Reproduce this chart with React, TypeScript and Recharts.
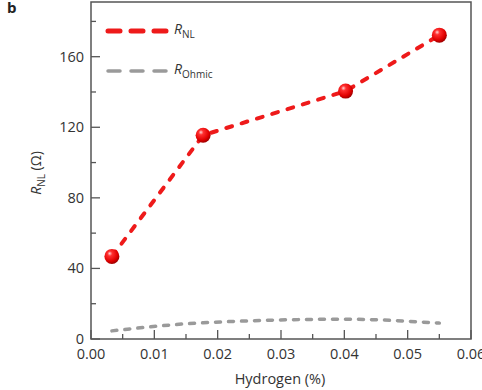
import React from "react";
import { LineChart, Line, XAxis, YAxis, ReferenceArea } from "recharts";

const hydrogen = [0.0033, 0.0177, 0.0402, 0.055];
const rNL = [46.8, 115.5, 140.5, 172.2];
const rOhmic = [4.6, 9.2, 11.2, 9.0];
const xTicks = [0, 0.005, 0.01, 0.015, 0.02, 0.025, 0.03, 0.035, 0.04, 0.045, 0.05, 0.055, 0.06];
const yTicks = [0, 20, 40, 60, 80, 100, 120, 140, 160, 180];

const nlData = hydrogen.map((x, i) => ({ x, v: rNL[i] }));
const ohmData = hydrogen.map((x, i) => ({ x, v: rOhmic[i] }));

const RED = "#ee1a1a";
const GREY = "#9a9a9a";
const AXIS = "#555";
const FONT = "'Open Sans', 'Noto Sans', sans-serif";

function XTick(props: any) {
  const { x, y, payload } = props;
  const v = payload.value;
  const major = Math.abs(v * 100 - Math.round(v * 100)) < 1e-6;
  return (
    <g>
      <line x1={x} x2={x} y1={y} y2={y - (major ? 9 : 5)} stroke={AXIS} strokeWidth={1.3} />
      {major && (
        <text x={x} y={y + 20} textAnchor="middle" fontSize={14.5} fill="#333" fontFamily={FONT}>
          {v.toFixed(2)}
        </text>
      )}
    </g>
  );
}

function YTick(props: any) {
  const { x, y, payload } = props;
  const v = payload.value;
  const major = v % 40 === 0;
  return (
    <g>
      <line x1={x} x2={x + (major ? 9 : 5)} y1={y} y2={y} stroke={AXIS} strokeWidth={1.3} />
      {major && (
        <text x={x - 7} y={y + 5} textAnchor="end" fontSize={14.5} fill="#333" fontFamily={FONT}>
          {v}
        </text>
      )}
    </g>
  );
}

function Ball(props: any) {
  const { cx, cy, index } = props;
  if (cx == null || cy == null) return null;
  return <circle key={index} cx={cx} cy={cy} r={7.5} fill="url(#ballGrad)" />;
}

function LegendRow({ color, sub, top, w }: { color: string; sub: string; top: number; w: number }) {
  return (
    <div style={{ position: "absolute", left: 105, top, display: "flex", alignItems: "center" }}>
      <svg width={64} height={8}>
        <line x1={3} x2={61} y1={4} y2={4} stroke={color} strokeWidth={w} strokeDasharray="12 11" strokeLinecap="round" />
      </svg>
      <span style={{ fontFamily: FONT, fontSize: 14, color: "#333", marginLeft: 5, lineHeight: "14px" }}>
        <i>R</i>
        <sub style={{ fontSize: 10 }}>{sub}</sub>
      </span>
    </div>
  );
}

export default function App() {
  return (
    <div style={{ position: "absolute", left: 0, top: 0, width: 482, height: 390, background: "#fff" }}>
      <div style={{ position: "absolute", left: 7, top: 0, fontFamily: FONT, fontWeight: 700, fontSize: 15, color: "#222", lineHeight: "15px" }}>
        b
      </div>
      <LineChart width={482} height={390} margin={{ top: 2, right: 11, bottom: 1, left: 41 }}>
        <defs>
          <radialGradient id="ballGrad" cx="40%" cy="35%" r="65%" fx="35%" fy="30%">
            <stop offset="0%" stopColor="#ffd6d6" />
            <stop offset="25%" stopColor="#ff3030" />
            <stop offset="75%" stopColor="#e00000" />
            <stop offset="100%" stopColor="#a00000" />
          </radialGradient>
        </defs>
        <XAxis
          dataKey="x"
          type="number"
          domain={[0, 0.06]}
          ticks={xTicks}
          height={50}
          axisLine={false}
          tickLine={false}
          tickSize={0}
          tickMargin={0}
          tick={<XTick />}
          interval={0}
          allowDuplicatedCategory={false}
        />
        <YAxis
          type="number"
          domain={[0, 191]}
          ticks={yTicks}
          width={50}
          axisLine={false}
          tickLine={false}
          tickSize={0}
          tickMargin={0}
          tick={<YTick />}
          interval={0}
        />
        <ReferenceArea x1={0} x2={0.06} y1={0} y2={191} fill="none" stroke={AXIS} strokeWidth={1.5} />
        <Line
          data={ohmData}
          dataKey="v"
          type="monotone"
          stroke={GREY}
          strokeWidth={3.5}
          strokeDasharray="5 8"
          strokeLinecap="round"
          dot={false}
          isAnimationActive={false}
        />
        <Line
          data={nlData}
          dataKey="v"
          type="linear"
          stroke={RED}
          strokeWidth={4}
          strokeDasharray="6 10"
          strokeLinecap="round"
          dot={<Ball />}
          isAnimationActive={false}
        />
      </LineChart>
      <LegendRow color={RED} sub="NL" top={22} w={5} />
      <LegendRow color={GREY} sub="Ohmic" top={62} w={3.5} />
      <div
        style={{
          position: "absolute",
          left: 37,
          top: 173,
          transform: "translate(-50%, -50%) rotate(-90deg)",
          fontFamily: FONT,
          fontSize: 14,
          color: "#333",
          whiteSpace: "nowrap",
        }}
      >
        <i>R</i>
        <sub style={{ fontSize: 10 }}>NL</sub> (Ω)
      </div>
      <div
        style={{
          position: "absolute",
          left: 280,
          top: 378,
          transform: "translate(-50%, -50%)",
          fontFamily: FONT,
          fontSize: 14.5,
          color: "#333",
          whiteSpace: "nowrap",
        }}
      >
        Hydrogen (%)
      </div>
    </div>
  );
}
